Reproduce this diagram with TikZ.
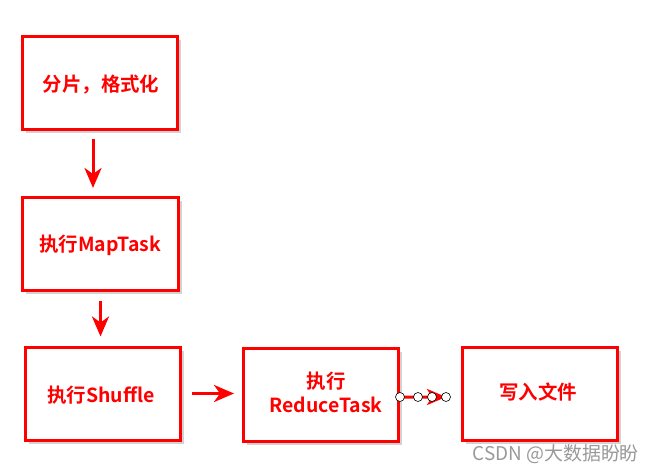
\documentclass[tikz,border=0pt]{standalone}
\usepackage{fontspec}
\setmainfont{Noto Sans CJK SC}[BoldFont={Noto Sans CJK SC Bold}]
\usetikzlibrary{arrows.meta,shadows}
\tikzset{
  stepbox/.style={draw=red, line width=3bp, fill=white, minimum width=155bp, minimum height=93bp,
    drop shadow={shadow xshift=3.5bp, shadow yshift=-3.5bp, fill=black!35}},
  lbl/.style={text=red, font=\bfseries\fontsize{19.5}{24}\selectfont, align=center},
  arr/.style={-{Stealth[length=20bp,width=17bp,inset=6bp]}, red, line width=3bp},
  dot/.style={circle, draw=black, fill=white, line width=0.6bp, inner sep=0pt, minimum size=9bp}
}

\begin{document}
\begin{tikzpicture}[x=1bp,y=-1bp]
  \useasboundingbox (0,0) rectangle (658,473);
  \node[stepbox] (fenpian) at (100,83.5) {};
  \node[stepbox] (maptask) at (100.5,244) {};
  \node[stepbox] (shuffle) at (103,393.5) {};
  \node[stepbox] (reduce) at (321,394.5) {};
  \node[stepbox] (write) at (539.5,394) {};
  \node[lbl] (fenpiantxt) at (101,85) {分片，格式化};
  \node[lbl] (maptasktxt) at (100,245) {执行MapTask};
  \node[lbl] (shuffletxt) at (101,395) {执行Shuffle};
  \node[lbl] (reducetxt) at (326,392) {执行\\ReduceTask};
  \node[lbl] (writetxt) at (538,392) {写入文件};
  \draw[arr, shorten <=8bp, shorten >=8bp] ([xshift=-7bp]fenpian.south) -- ([xshift=-7bp]fenpian.south |- maptask.north);
  \draw[arr, shorten <=9bp, shorten >=9bp] (maptask.south) -- (maptask.south |- shuffle.north);
  \draw[arr, shorten <=10bp, shorten >=8bp] (shuffle.east) -- (shuffle.east -| reduce.west);
  \coordinate (wend) at (446,397);
  \draw[arr, -{Stealth[length=19bp,width=16bp,inset=5bp]}] ([yshift=-2.5bp]reduce.east) -- (wend);
  \node[dot] at ([yshift=-2.5bp]reduce.east) {};
  \node[dot] at (418,397) {};
  \node[dot] at (432,397) {};
  \node[dot] at (wend) {};
  \node[text=black!40, font=\fontsize{19}{23}\selectfont, anchor=west] (mark) at (469,454) {CSDN @大数据盼盼};
\end{tikzpicture}
\end{document}
